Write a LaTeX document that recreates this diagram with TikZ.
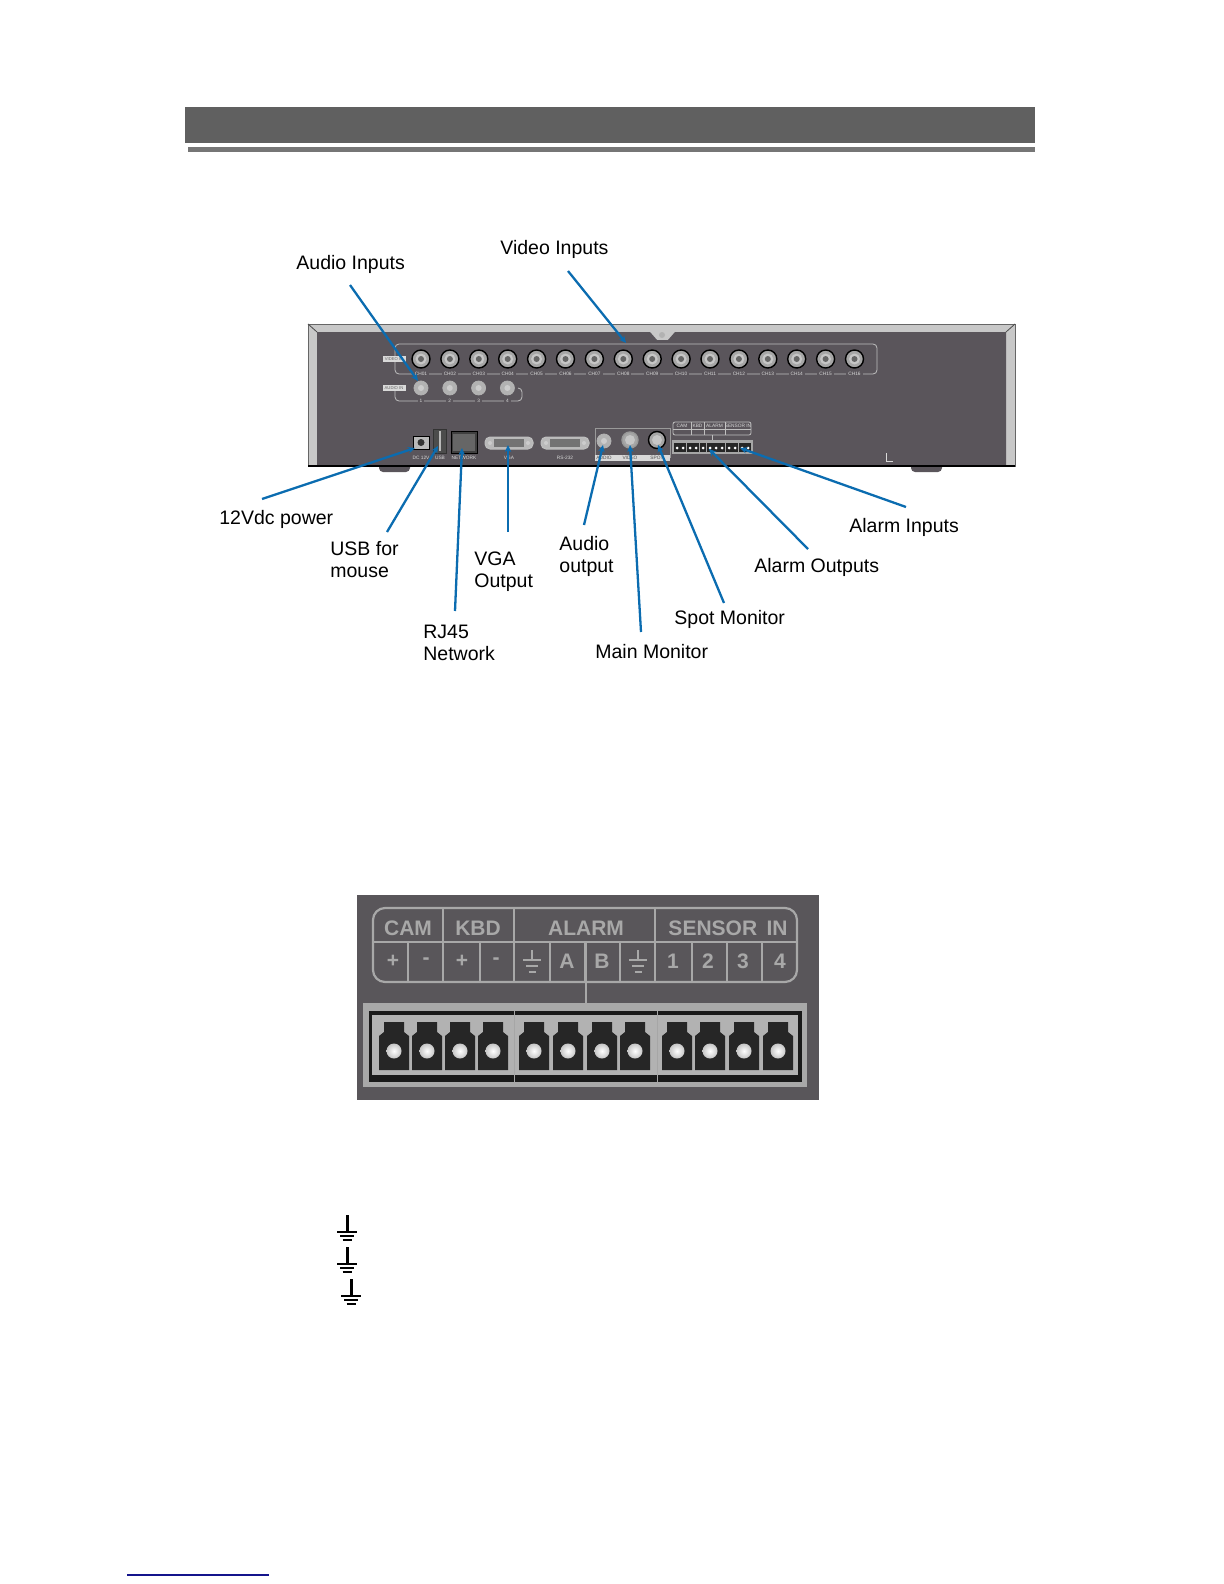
\documentclass[tikz,border=0pt]{standalone}
\usepackage{fontspec}
\setmainfont{Liberation Sans}
\usetikzlibrary{arrows.meta, calc}
\definecolor{bandgray}{HTML}{606060}
\definecolor{rulegray}{HTML}{767676}
\definecolor{chassis}{HTML}{5A555B}
\definecolor{bezel}{HTML}{C8C8C8}
\definecolor{panelbg}{HTML}{59565A}
\definecolor{panelgray}{HTML}{A8A8A8}
\definecolor{leaderblue}{HTML}{0B6CB0}
\definecolor{linkblue}{HTML}{14148C}
\tikzset{
  lbl/.style={anchor=west,inner sep=0pt,align=left,font=\fontsize{9.75}{11}\selectfont},
  tiny/.style={inner sep=0pt,text=white!85!black,font=\fontsize{2.4}{3}\selectfont},
  tagbox/.style={fill=white!85!black,text=black!60,minimum width=11.5pt,minimum height=2.8pt,inner sep=0pt,font=\fontsize{2.1}{3}\selectfont},
  arr/.style={-{Stealth[length=3.5pt,width=3.2pt]},draw=leaderblue,line width=1.15pt},
  bnc/.style={circle,draw=black,line width=0.7pt,fill=gray!70,minimum size=9pt,inner sep=0pt},
  abnc/.style={circle,draw=white!70!black,line width=0.4pt,fill=gray!60,minimum size=7pt,inner sep=0pt},
  port/.style={rectangle,draw=black,fill=black!75,inner sep=0pt},
  dsub/.style={rectangle,rounded corners=2.5pt,draw=white!75!black,line width=0.5pt,fill=gray!55,minimum width=24pt,minimum height=6pt,inner sep=0pt},
  frameline/.style={draw=white!75!black,line width=0.4pt},
  pline/.style={draw=panelgray,line width=0.9pt},
  paneltext/.style={inner sep=0pt,text=panelgray,font=\fontsize{10.5}{11}\selectfont\bfseries},
  hole/.style={circle,inner sep=0pt,minimum size=7.5pt,inner color=white,outer color=gray!45},
  gnd/.pic={
    \draw[line width=1.5pt] (0,-17) -- (0,0);
    \draw[line width=1.1pt] (-10,0) -- (10,0) (-7,3.8) -- (7,3.8) (-4.5,7.6) -- (4.5,7.6);
  },
  lightgnd/.pic={
    \draw[pline] (0,-10) -- (0,0) (-9,0) -- (9,0) (-6,6) -- (6,6) (-3.5,12) -- (3.5,12);
  }
}
\begin{document}
\begin{tikzpicture}[x=0.5pt,y=-0.5pt]
  \useasboundingbox (0,0) rectangle (1224,1584);

  % title band
  \fill[bandgray] (185,107) rectangle (1035,143);
  \fill[rulegray] (188,147) rectangle (1035,152);

  % rear view
  \fill[chassis,rounded corners=2pt] (379,460) rectangle (410,472) (911,460) rectangle (942,472);
  \fill[bezel,draw=black!60] (308,324) rectangle (1015,466);
  \fill[chassis] (317,332) -- (650,332) -- (657,340) -- (668,340) -- (675,332) -- (1006,332) -- (1006,466) -- (317,466) -- cycle;
  \draw[black!70] (308,324) -- (317,332) (1015,324) -- (1006,332);
  \draw[black,line width=0.6pt] (308,466) -- (1015,466);
  \fill[gray!60] (662,335) circle (3);
  \draw[white!85!black,line width=0.4pt] (886,453) -- (886,461) -- (893,461);

  \draw[frameline,rounded corners=2pt] (395,359) -- (395,344) -- (877,344) -- (877,374) -- (395,374) -- cycle;
  \draw[frameline,rounded corners=2pt] (395,388) -- (395,401) -- (522,401) -- (522,388) -- (518,388);

  \node[tagbox] (vidtag) at (394,359) {VIDEO IN};
  \node[tagbox] (audtag) at (394,388) {AUDIO IN};

  \foreach \n [count=\i] in {01,02,03,04,05,06,07,08,09,10,11,12,13,14,15,16} {
    \pgfmathsetmacro{\cx}{421+28.9*(\i-1)}
    \node[bnc] (ch\n) at (\cx,359) {};
    \fill[gray!45] (ch\n) circle (5.5);
    \fill[black!60] (ch\n) circle (3);
    \node[tiny,fill=chassis,inner xsep=1pt] (cap\n) at (\cx,374) {CH\n};
  }
  \foreach \n [count=\i] in {1,2,3,4} {
    \pgfmathsetmacro{\cx}{421+28.8*(\i-1)}
    \node[abnc] (aud\n) at (\cx,388) {};
    \fill[gray!40] (aud\n) circle (3);
    \node[tiny,fill=chassis,inner xsep=1pt] (audcap\n) at (\cx,401) {\n};
  }

  \node[port,fill=gray!55,minimum width=8pt,minimum height=6.5pt] (dcjack) at (421,442.5) {};
  \fill[black!80] (dcjack) circle (3.5);
  \node[port,draw=black!80,fill=black!70,minimum width=6.5pt,minimum height=12pt] (usbport) at (439.5,441) {};
  \fill[gray!55] (438.5,431) rectangle (441,451);
  \node[port,minimum width=13pt,minimum height=11pt] (netport) at (464,442) {};
  \fill[black!60] (453,434) rectangle (475,451);
  \node[dsub] (vgaport) at (509,443) {};
  \fill[black!55] (494,439) rectangle (524,447);
  \fill[white!80!black] (490,443) circle (2) (528,443) circle (2);
  \node[dsub] (rsport) at (565,443) {};
  \fill[black!55] (550,439) rectangle (580,447);
  \fill[white!80!black] (546,443) circle (2) (584,443) circle (2);
  \node[tiny] (dccap) at (421,458) {DC 12V};
  \node[tiny] (usbcap) at (440,458) {USB};
  \node[tiny] (netcap) at (464,458) {NETWORK};
  \node[tiny] (vgacap) at (509,458) {VGA};
  \node[tiny] (rscap) at (565,458) {RS-232};

  \draw[frameline,gray!80] (595,458) -- (595,428) -- (670,428) -- (670,458);
  \fill[white!85!black] (595,455) rectangle (670,461);
  \node[abnc] (audout) at (604,441) {};
  \fill[gray!40] (audout) circle (3);
  \node[bnc,draw=white!60!black,minimum size=8pt] (vidout) at (630,440) {};
  \fill[gray!45] (vidout) circle (5);
  \node[bnc,minimum size=8.5pt] (spotout) at (657,440) {};
  \fill[gray!45] (spotout) circle (5);
  \node[tiny,text=black!70] (audoutcap) at (604,458) {AUDIO};
  \node[tiny,text=black!70] (vidoutcap) at (630,458) {VIDEO};
  \node[tiny,text=black!70] (spotcap) at (657,458) {SPOT};

  \draw[frameline,rounded corners=1pt] (673,422) rectangle (751,435);
  \draw[frameline] (673,429) -- (751,429) (691,422) -- (691,435) (704,422) -- (704,435) (725,422) -- (725,435);
  \node[tiny] (minicam) at (682,425.5) {CAM};
  \node[tiny] (minikbd) at (697.5,425.5) {KBD};
  \node[tiny] (minialarm) at (714.5,425.5) {ALARM};
  \node[tiny] (minisensor) at (738,425.5) {SENSOR IN};
  \draw[frameline] (712,435) -- (712,440);
  \fill[gray!70] (672,440) rectangle (753,454);
  \foreach \cx in {677,683,690,696,703,710,716,722,729,735,742,748} {
    \fill[black!85] ($(\cx,443)+(-2.7,0)$) rectangle ($(\cx,452)+(2.7,0)$);
    \fill[white] (\cx,448) circle (1.5);
  }

  % labels
  \node[lbl] (lblvideo)  at (500,249.5) {Video Inputs};
  \node[lbl] (lblaudio)  at (296,264) {Audio Inputs};
  \node[lbl] (lblpower)  at (219,519) {12Vdc power};
  \node[lbl] (lblusb)    at (330,560) {USB for\\mouse};
  \node[lbl] (lblvga)    at (474,571.5) {VGA\\Output};
  \node[lbl] (lblaudout) at (559,556.5) {Audio\\output};
  \node[lbl] (lblrj)     at (423,642.5) {RJ45\\Network};
  \node[lbl] (lblmain)   at (595,652) {Main Monitor};
  \node[lbl] (lblspot)   at (674,619) {Spot Monitor};
  \node[lbl] (lblalout)  at (754,567) {Alarm Outputs};
  \node[lbl] (lblalin)   at (849,527) {Alarm Inputs};

  % leaders
  \foreach \n/\cx/\cy in {tvideo/568/271,taudio/350/285,tpower/262/499,tusb/387/532,tvga/508/532,taudout/584/525,trj/455/611,tmain/641/632,tspot/724/603,talout/808/549,talin/906/507,
      pvideo/626/343,paudio/418/381,ppower/415/448,pusb/438/446,pvga/508/445,paudout/603/445,prj/462/448,pmain/630/445,pspot/658/445,palout/709/449,palin/740/448}
    \coordinate (\n) at (\cx,\cy);
  \foreach \s/\t in {tvideo/pvideo,taudio/paudio,tpower/ppower,tusb/pusb,tvga/pvga,taudout/paudout,trj/prj,tmain/pmain,tspot/pspot,talout/palout,talin/palin}
    \draw[arr] (\s) -- (\t);

  % terminal close-up
  \fill[panelbg] (357,895) rectangle (819,1100);
  \draw[pline,rounded corners=6pt,line width=1.1pt] (373,908) rectangle (797,982);
  \draw[pline] (373,942) -- (797,942);
  \foreach \cx in {443,514,655}
    \draw[pline] (\cx,908) -- (\cx,982);
  \foreach \cx in {408,480,550,585,620,692,727,762}
    \draw[pline] (\cx,942) -- (\cx,982);
  \node[paneltext] (headcam) at (408,928) {CAM};
  \node[paneltext] (headkbd) at (478,928) {KBD};
  \node[paneltext] (headalarm) at (586,928) {ALARM};
  \node[paneltext] (headsensor) at (728,928) {SENSOR\, IN};
  \foreach \t/\cx in {+/393,-/426,+/462,-/496,A/567,B/602,1/673,2/708,3/743,4/780}
    \node[paneltext] at (\cx,961) {\t};
  \pic at (532,960) {lightgnd};
  \pic at (638,960) {lightgnd};
  \draw[pline] (586,942) -- (586,1004);

  \fill[panelgray] (363,1003) rectangle (807,1087);
  \fill[black!90] (369,1011) rectangle (802,1082);
  \fill[gray!60] (372,1015) rectangle (798,1075);
  \foreach \cx in {394,427,460,493,534,568,602,635,677,710,744,778} {
    \fill[black!85] ($(\cx,1022)+(-10,0)$) -- ($(\cx,1022)+(10,0)$) -- ($(\cx,1032)+(10,0)$) -- ($(\cx,1036)+(15,0)$) -- ($(\cx,1070)+(15,0)$) -- ($(\cx,1070)+(-15,0)$) -- ($(\cx,1036)+(-15,0)$) -- ($(\cx,1032)+(-10,0)$) -- cycle;
    \node[hole] at (\cx,1051) {};
  }
  \draw[gray!70,line width=0.5pt] (514,1011) -- (514,1082) (657,1011) -- (657,1082);

  % grounds
  \pic at (347,1232) {gnd};
  \pic at (347,1264) {gnd};
  \pic at (351,1296) {gnd};

  \draw[linkblue,line width=0.8pt] (127,1575) -- (269,1575);
\end{tikzpicture}
\end{document}
